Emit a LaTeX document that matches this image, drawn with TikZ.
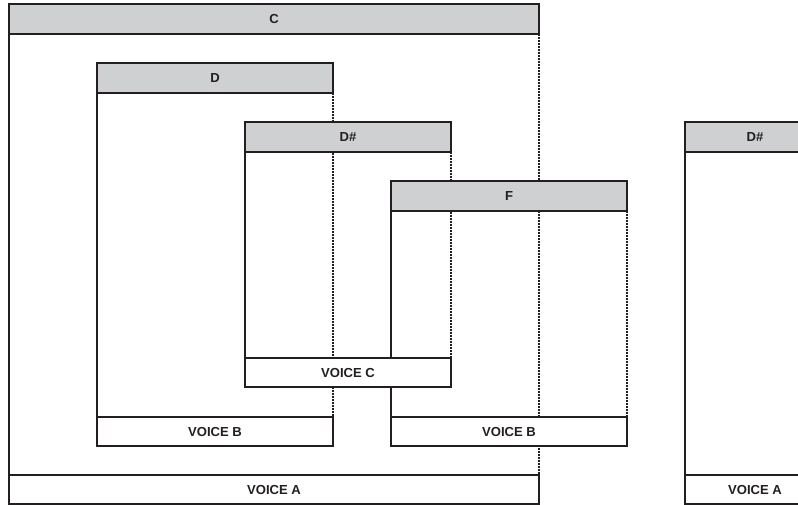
\documentclass[tikz,border=0pt]{standalone}
\usepackage{fontspec}
\setmainfont{Liberation Sans}
\usetikzlibrary{positioning,backgrounds}
\definecolor{ink}{HTML}{231F20}
\definecolor{bar}{HTML}{CFD0D2}
\begin{document}
\begin{tikzpicture}[x=0.75pt,y=-0.75pt,line width=1.5pt,
  font=\fontsize{9.8pt}{11pt}\selectfont\bfseries]
	\tikzstyle{box}=[draw=ink,text=ink,anchor=north west,outer sep=0pt,inner sep=0pt,minimum height=22.5pt]
	\tikzstyle{pitch}=[box,fill=bar]
	\tikzstyle{voice}=[box,fill=white,minimum height=21.75pt]
	\tikzstyle{span}=[draw=ink,line width=1.5pt]
	\tikzstyle{held}=[draw=ink,line width=1.3pt,dash pattern=on 1.5pt off 0.75pt]
	\useasboundingbox (0,0) rectangle (798,504);
	\clip (0,0) rectangle (798,504);
	% pitch bars
	\node[pitch,minimum width=397.5pt] (c)   at (9,4)     {C};
	\node[pitch,minimum width=177pt]   (d)   at (97,63)   {D};
	\node[pitch,minimum width=154.5pt] (ds)  at (245,122) {D\#};
	\node[pitch,minimum width=177pt]   (f)   at (391,181) {F};
	\node[pitch,minimum width=105pt]   (ds2) at (685,122) {D\#};
	% voices
	\node[voice,minimum width=397.5pt] (va)  at (9,475)   {VOICE A};
	\node[voice,minimum width=177pt]   (vb)  at (97,417)  {VOICE B};
	\node[voice,minimum width=154.5pt] (vc)  at (245,358) {VOICE C};
	\node[voice,minimum width=177pt]   (vb2) at (391,417) {VOICE B};
	\node[voice,minimum width=105pt]   (va2) at (685,475) {VOICE A};
	% note spans
	\begin{pgfonlayer}{background}
	\draw[span] (c.south west)   -- (va.north west);
	\draw[span] (d.south west)   -- (vb.north west);
	\draw[span] (ds.south west)  -- (vc.north west);
	\draw[span] (f.south west)   -- (vb2.north west);
	\draw[span] (ds2.south west) -- (va2.north west);
	\draw[held] (c.south east)  -- (va.north east);
	\draw[held] (d.south east)  -- (vb.north east);
	\draw[held] (ds.south east) -- (vc.north east);
	\draw[held] (f.south east)  -- (vb2.north east);
	\end{pgfonlayer}
\end{tikzpicture}
\end{document}
